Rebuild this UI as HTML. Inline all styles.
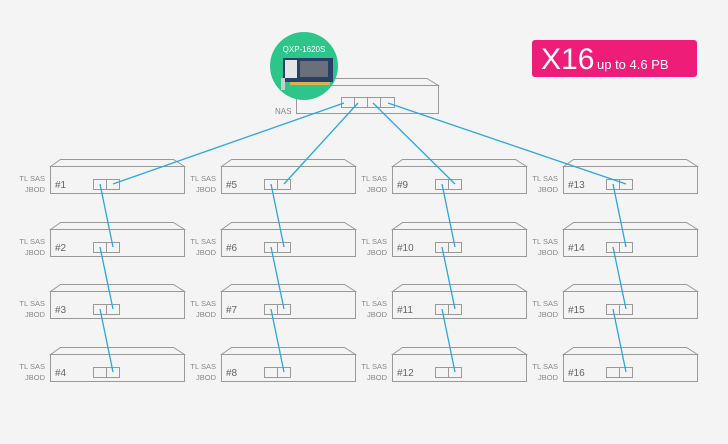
<!DOCTYPE html>
<html><head><meta charset="utf-8"><style>
html,body{margin:0;padding:0;background:#f4f4f4;}
svg{display:block;font-family:"Liberation Sans",sans-serif;}
</style></head><body>
<svg width="728" height="444" viewBox="0 0 728 444" xmlns="http://www.w3.org/2000/svg">
<rect width="728" height="444" fill="#f4f4f4"/>
<g fill="none" stroke="#999" stroke-width="1">
<path d="M296.5,85.5 L330,78.5 L427,78.5 L438.5,85.5 Z" fill="#f4f4f4"/>
<rect x="296.5" y="85.5" width="142" height="28" fill="#f4f4f4"/>
<rect x="341.5" y="97.5" width="13" height="10"/>
<rect x="354.5" y="97.5" width="13" height="10"/>
<rect x="367.5" y="97.5" width="13" height="10"/>
<rect x="380.5" y="97.5" width="14" height="10"/>
</g>
<text x="275" y="114" font-size="8" fill="#888">NAS</text>
<circle cx="304" cy="66" r="34" fill="#2dc58a"/>
<text x="304" y="52" font-size="8" fill="#fff" text-anchor="middle">QXP-1620S</text>
<rect x="283" y="58" width="50" height="24" fill="#2a3f66"/>
<rect x="285" y="60" width="12" height="18" fill="#e4e4e4"/>
<rect x="300" y="61" width="28" height="16" fill="#6b6f7a"/>
<rect x="290" y="82" width="40" height="3" fill="#d9b24a"/>
<rect x="281" y="78" width="4" height="12" fill="#ccc"/>
<rect x="532" y="40" width="165" height="37" rx="3" fill="#ee1e78"/>
<text x="541" y="69" font-size="30" fill="#fff">X16</text>
<text x="597" y="69" font-size="13" fill="#fff">up to 4.6 PB</text>
<g id="boxes"></g>
<g id="lines" stroke="#2aa6e0" stroke-width="1.3"></g>
</svg>
<script>
(function(){
var ns="http://www.w3.org/2000/svg";
var B=document.getElementById('boxes'),L=document.getElementById('lines');
var cols=[50,221,392,563],rows=[166,229,291,354];
function el(t,a,p,txt){var e=document.createElementNS(ns,t);for(var k in a)e.setAttribute(k,a[k]);if(txt)e.textContent=txt;p.appendChild(e);return e;}
for(var c=0;c<4;c++)for(var r=0;r<4;r++){
 var x=cols[c]+.5,y=rows[r]+.5,n=c*4+r+1;
 el('path',{d:'M'+x+','+y+' L'+(x+10)+','+(y-7)+' L'+(x+123)+','+(y-7)+' L'+(x+134)+','+y+' Z',fill:'#f4f4f4',stroke:'#999'},B);
 el('rect',{x:x,y:y,width:134,height:27,fill:'#f4f4f4',stroke:'#999'},B);
 el('rect',{x:x+43,y:y+13,width:13,height:10,fill:'none',stroke:'#999'},B);
 el('rect',{x:x+56,y:y+13,width:13,height:10,fill:'none',stroke:'#999'},B);
 el('text',{x:cols[c]-5,y:rows[r]+15,'font-size':'7.5',fill:'#888','text-anchor':'end'},B,'TL SAS');
 el('text',{x:cols[c]-5,y:rows[r]+26,'font-size':'7.5',fill:'#888','text-anchor':'end'},B,'JBOD');
 el('text',{x:cols[c]+5,y:rows[r]+22,'font-size':'10',fill:'#666'},B,'#'+n);
 if(r<3){el('line',{x1:cols[c]+50,y1:rows[r]+18,x2:cols[c]+63,y2:rows[r+1]+18},L);}
}
var sx=[344,358,373,388];
for(var c=0;c<4;c++)el('line',{x1:sx[c],y1:103,x2:cols[c]+63,y2:184},L);
})();
</script>
</body></html>
